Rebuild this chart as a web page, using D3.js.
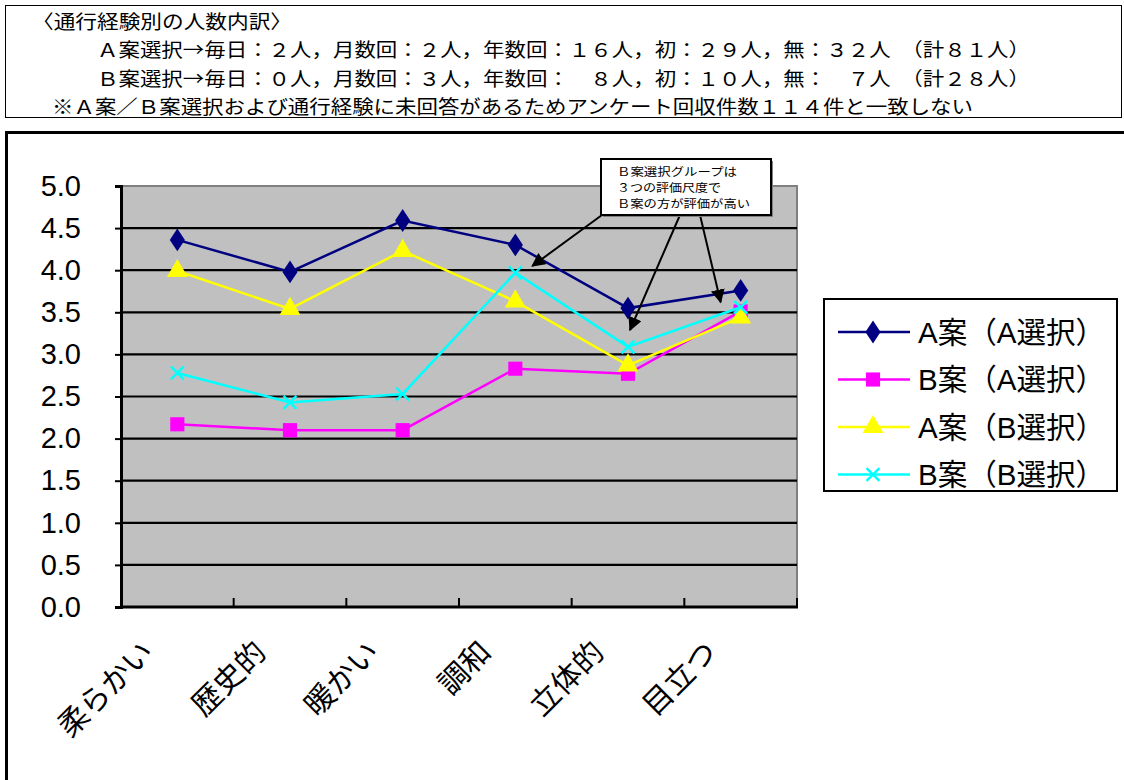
<!DOCTYPE html>
<html lang="ja">
<head>
<meta charset="utf-8">
<script src="https://cdn.jsdelivr.net/npm/d3@7"></script>
<style>
  html, body { margin: 0; padding: 0; background: #fff; }
  svg { display: block; }
</style>
</head>
<body>
<svg id="chart" width="1124" height="780"></svg>
<script>
// Evaluation categories (x axis)
const categories = ["柔らかい", "歴史的", "暖かい", "調和", "立体的", "目立つ"];

// Mean evaluation scores for each plan, split by which plan the respondent chose
const planA_chooseA = [4.36, 3.98, 4.59, 4.30, 3.55, 3.76];
const planB_chooseA = [2.17, 2.10, 2.10, 2.83, 2.77, 3.51];
const planA_chooseB = [3.99, 3.54, 4.23, 3.63, 2.87, 3.44];
const planB_chooseB = [2.78, 2.43, 2.53, 3.97, 3.09, 3.56];

const seriesNames = ["A案（A選択）", "B案（A選択）", "A案（B選択）", "B案（B選択）"];
const yTicks = [0, 0.5, 1, 1.5, 2, 2.5, 3, 3.5, 4, 4.5, 5];

// Header notes
const noteLines = [
  "〈通行経験別の人数内訳〉",
  "Ａ案選択→毎日：２人，月数回：２人，年数回：１６人，初：２９人，無：３２人　（計８１人）",
  "Ｂ案選択→毎日：０人，月数回：３人，年数回：　８人，初：１０人，無：　７人　（計２８人）",
  "※Ａ案／Ｂ案選択および通行経験に未回答があるためアンケート回収件数１１４件と一致しない"
];
const calloutLines = ["Ｂ案選択グループは", "３つの評価尺度で", "Ｂ案の方が評価が高い"];

const series = [
  { name: seriesNames[0], values: planA_chooseA, color: "#000080", marker: "diamond" },
  { name: seriesNames[1], values: planB_chooseA, color: "#FF00FF", marker: "square" },
  { name: seriesNames[2], values: planA_chooseB, color: "#FFFF00", marker: "triangle" },
  { name: seriesNames[3], values: planB_chooseB, color: "#00FFFF", marker: "cross" }
];

const svg = d3.select("#chart");
const sansFont = "'Liberation Sans', Arial, 'Noto Sans CJK JP', sans-serif";
const cjkFont = "'Noto Sans CJK JP', sans-serif";

// ---- header note box ----
svg.append("rect").attr("x", 5.5).attr("y", 5.5).attr("width", 1116).attr("height", 112)
  .attr("fill", "#fff").attr("stroke", "#000").attr("stroke-width", 1);

const noteLayout = [
  { x: 32, y: 20, len: 260 },
  { x: 97, y: 48, len: 933 },
  { x: 97, y: 77, len: 933 },
  { x: 52, y: 105, len: 921 }
];
svg.append("g").selectAll("text").data(noteLines).join("text")
  .attr("x", (d, i) => noteLayout[i].x)
  .attr("y", (d, i) => noteLayout[i].y)
  .attr("dominant-baseline", "central")
  .attr("textLength", (d, i) => noteLayout[i].len)
  .attr("lengthAdjust", "spacingAndGlyphs")
  .style("font-family", cjkFont)
  .style("font-size", "19px")
  .attr("fill", "#000")
  .text(d => d);

// ---- chart frame ----
svg.append("rect").attr("x", 6.5).attr("y", 132.5).attr("width", 1130).attr("height", 660)
  .attr("fill", "#fff").attr("stroke", "#000").attr("stroke-width", 3);

// ---- plot area ----
const plot = { left: 121, top: 186, right: 797, bottom: 607 };

const x = d3.scaleBand().domain(categories).range([plot.left, plot.right]).padding(0);
const y = d3.scaleLinear().domain([0, 5]).range([plot.bottom, plot.top]);
const cx = c => x(c) + x.bandwidth() / 2;

svg.append("rect")
  .attr("x", plot.left).attr("y", plot.top)
  .attr("width", plot.right - plot.left).attr("height", plot.bottom - plot.top)
  .attr("fill", "#C0C0C0").attr("stroke", "#808080").attr("stroke-width", 2);

// horizontal gridlines
svg.append("g").selectAll("line").data(yTicks.filter(v => v > 0 && v < 5)).join("line")
  .attr("x1", plot.left).attr("x2", plot.right)
  .attr("y1", d => y(d)).attr("y2", d => y(d))
  .attr("stroke", "#000").attr("stroke-width", 2.2);

// y axis
const yAxis = svg.append("g").attr("transform", `translate(${plot.left},0)`)
  .call(d3.axisLeft(y).tickValues(yTicks).tickFormat(d3.format(".1f")).tickSize(6).tickPadding(34));
yAxis.select(".domain").attr("stroke", "#000").attr("stroke-width", 3);
yAxis.selectAll(".tick line").attr("stroke", "#000").attr("stroke-width", 2);
yAxis.selectAll(".tick text")
  .style("font-family", sansFont).style("font-size", "29px").attr("fill", "#000");

// x axis (ticks at category boundaries, pointing inward)
const xAxis = svg.append("g").attr("transform", `translate(0,${plot.bottom})`);
xAxis.append("line").attr("x1", plot.left).attr("x2", plot.right + 1)
  .attr("stroke", "#000").attr("stroke-width", 3);
xAxis.selectAll("line.tk").data(categories.slice(1).concat(["__end"])).join("line")
  .attr("class", "tk")
  .attr("x1", d => d === "__end" ? plot.right : x(d))
  .attr("x2", d => d === "__end" ? plot.right : x(d))
  .attr("y1", -9).attr("y2", 0)
  .attr("stroke", "#000").attr("stroke-width", 2);

xAxis.selectAll("text").data(categories).join("text")
  .attr("transform", d => `translate(${cx(d) - 22},${47}) rotate(-45)`)
  .attr("text-anchor", "end")
  .style("font-family", cjkFont).style("font-size", "30px")
  .attr("fill", "#000")
  .text(d => d);

// ---- series ----
const symbolFor = {
  diamond: d3.symbol().type(d3.symbolDiamond).size(150),
  square: d3.symbol().type(d3.symbolSquare).size(200),
  triangle: d3.symbol().type(d3.symbolTriangle).size(190),
  cross: d3.symbol().type(d3.symbolX).size(110)
};

const line = d3.line().x((d, i) => cx(categories[i])).y(d => y(d));

function drawMarker(g, s, px, py) {
  const p = g.append("path").attr("d", symbolFor[s.marker]())
    .attr("transform", `translate(${px},${py})` + (s.marker === "diamond" ? " scale(1.15,1)" : ""));
  if (s.marker === "cross") {
    p.attr("fill", "none").attr("stroke", s.color).attr("stroke-width", 2.5);
  } else {
    p.attr("fill", s.color).attr("stroke", "none");
  }
}

series.forEach(s => {
  const g = svg.append("g");
  g.append("path").datum(s.values).attr("d", line)
    .attr("fill", "none").attr("stroke", s.color).attr("stroke-width", 2.5);
  s.values.forEach((v, i) => drawMarker(g, s, cx(categories[i]), y(v)));
});

// ---- callout ----
const callout = { x: 601, y: 159, w: 170, h: 56 };
const arrowTargets = [
  { cat: "調和", dx: 17, v: 4.05, from: 602 },
  { cat: "立体的", dx: 2, v: 3.29, from: 680 },
  { cat: "目立つ", dx: -20, v: 3.62, from: 700 }
];
svg.append("defs").append("marker")
  .attr("id", "arrowhead").attr("viewBox", "0 0 10 10")
  .attr("refX", 9).attr("refY", 5)
  .attr("markerWidth", 7).attr("markerHeight", 7)
  .attr("markerUnits", "strokeWidth")
  .attr("orient", "auto")
  .append("path").attr("d", "M0,0 L10,5 L0,10 Z").attr("fill", "#000");

svg.append("g").selectAll("line").data(arrowTargets).join("line")
  .attr("x1", d => d.from).attr("y1", callout.y + callout.h)
  .attr("x2", d => cx(d.cat) + d.dx).attr("y2", d => y(d.v))
  .attr("stroke", "#000").attr("stroke-width", 2)
  .attr("marker-end", "url(#arrowhead)");

svg.append("rect").attr("x", callout.x + 2).attr("y", callout.y + 2)
  .attr("width", callout.w).attr("height", callout.h).attr("fill", "#808080");
svg.append("rect").attr("x", callout.x).attr("y", callout.y)
  .attr("width", callout.w).attr("height", callout.h)
  .attr("fill", "#fff").attr("stroke", "#000").attr("stroke-width", 2);
const calloutWidths = [120, 104, 133];
svg.append("g").selectAll("text").data(calloutLines).join("text")
  .attr("x", callout.x + 16)
  .attr("y", (d, i) => callout.y + 12 + i * 16)
  .attr("dominant-baseline", "central")
  .attr("textLength", (d, i) => calloutWidths[i])
  .attr("lengthAdjust", "spacingAndGlyphs")
  .style("font-family", cjkFont).style("font-size", "11.5px")
  .attr("fill", "#000")
  .text(d => d);

// ---- legend ----
const legend = svg.append("g").attr("transform", "translate(824,299)");
legend.append("rect").attr("width", 293).attr("height", 192)
  .attr("fill", "#fff").attr("stroke", "#000").attr("stroke-width", 2);
series.forEach((s, i) => {
  const ly = 33 + i * 47.5;
  const g = legend.append("g");
  g.append("line").attr("x1", 14).attr("x2", 86).attr("y1", ly).attr("y2", ly)
    .attr("stroke", s.color).attr("stroke-width", 2.5);
  drawMarker(g, s, 49, ly);
  g.append("text").attr("x", 94).attr("y", ly).attr("dominant-baseline", "central")
    .attr("textLength", 187).attr("lengthAdjust", "spacingAndGlyphs")
    .style("font-family", sansFont).style("font-size", "30px").attr("fill", "#000")
    .text(s.name);
});
</script>
</body>
</html>
